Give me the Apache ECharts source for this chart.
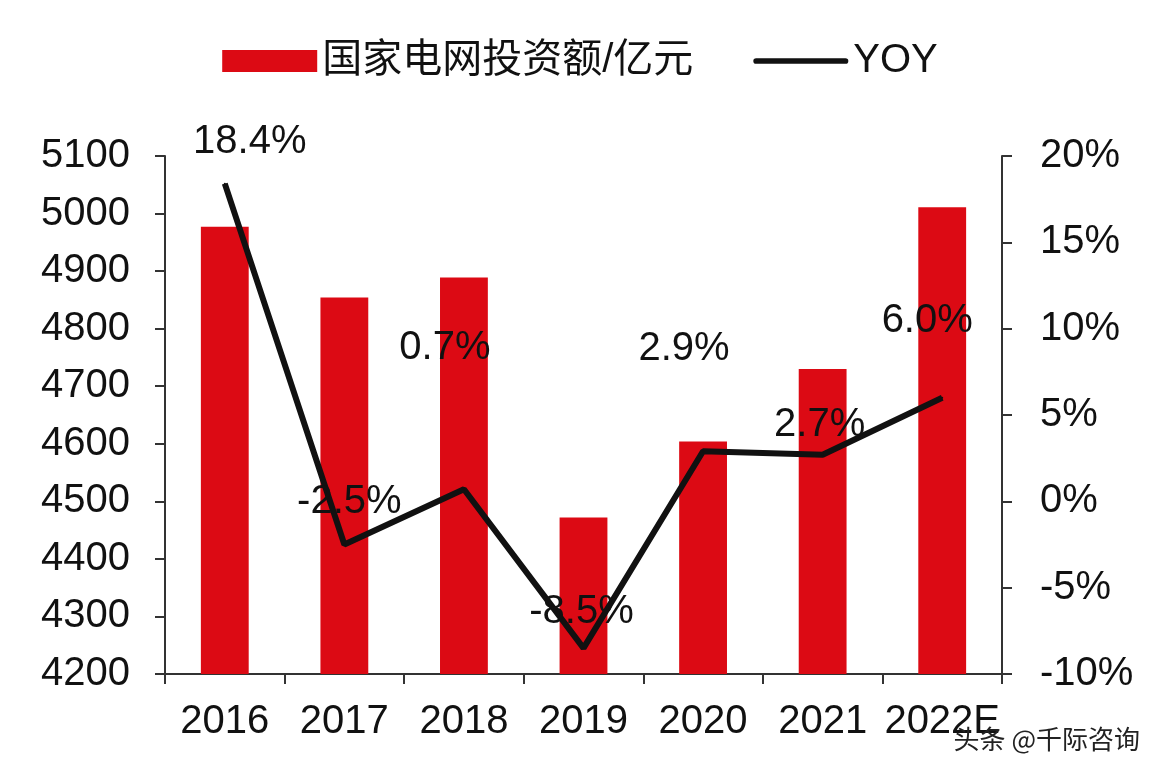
<!DOCTYPE html>
<html>
<head>
<meta charset="utf-8">
<script src="https://cdn.jsdelivr.net/npm/echarts@6/dist/echarts.min.js"></script>
<style>
  html, body { margin: 0; padding: 0; background: #fff; }
  #chart { width: 1160px; height: 780px; }
</style>
</head>
<body>
<div id="chart"></div>
<script>
var years = ['2016', '2017', '2018', '2019', '2020', '2021', '2022E']
var investment = [4977, 4854, 4889, 4472, 4604, 4730, 5011]
var yoy = [18.4, -2.5, 0.7, -8.5, 2.9, 2.7, 6.0]
var leftTicks = [4200, 4300, 4400, 4500, 4600, 4700, 4800, 4900, 5000, 5100]
var rightTicks = [-10, -5, 0, 5, 10, 15, 20]

// label offsets, matched to the picture
var labelOffsets = [[25, -42], [5, -43], [-19, -141], [-2, -36], [-19, -102], [-3, -30], [-15, -77]]

var chart = echarts.init(document.getElementById('chart'), null, { renderer: 'canvas' })

var font = 'Liberation Sans, Arial, sans-serif'
var axisColor = '#333'

var option = {
  backgroundColor: '#fff',
  textStyle: { fontFamily: font },
  legend: {
    top: 36,
    left: 'center',
    itemWidth: 95,
    itemHeight: 22,
    itemGap: 60,
    textStyle: { fontSize: 40, color: '#111', fontFamily: 'Liberation Sans, Noto Sans CJK SC, sans-serif' },
    data: [
      { name: '国家电网投资额/亿元', icon: 'rect' },
      { name: 'YOY', icon: 'path://M3,0 L97,0 A3,3 0 0 1 97,6 L3,6 A3,3 0 0 1 3,0 Z' }
    ]
  },
  grid: {
    left: 165,
    right: 158,
    top: 156,
    bottom: 106
  },
  xAxis: {
    type: 'category',
    data: years,
    axisLine: { onZero: false, lineStyle: { color: axisColor, width: 2 } },
    axisTick: { show: true, length: 10, lineStyle: { color: axisColor, width: 2 } },
    axisLabel: { fontSize: 40, color: '#111', margin: 28, interval: 0 }
  },
  yAxis: [{
    type: 'value',
    min: leftTicks[0],
    max: leftTicks[leftTicks.length - 1],
    interval: 100,
    axisLine: { show: true, lineStyle: { color: axisColor, width: 2 } },
    axisTick: { show: true, length: 10, lineStyle: { color: axisColor, width: 2 } },
    axisLabel: { fontSize: 40, color: '#111', margin: 35, formatter: function(v) { return String(v) } },
    splitLine: { show: false }
  }, {
    type: 'value',
    position: 'right',
    min: rightTicks[0],
    max: rightTicks[rightTicks.length - 1],
    interval: 5,
    axisLine: { show: true, lineStyle: { color: axisColor, width: 2 } },
    axisTick: { show: true, length: 10, lineStyle: { color: axisColor, width: 2 } },
    axisLabel: { fontSize: 40, color: '#111', margin: 38, formatter: '{value}%' },
    splitLine: { show: false }
  }],
  series: [{
    name: '国家电网投资额/亿元',
    type: 'bar',
    data: investment,
    barWidth: '40%',
    itemStyle: { color: '#dc0a14' }
  }, {
    name: 'YOY',
    type: 'line',
    yAxisIndex: 1,
    data: yoy.map(function(v, i) {
      return {
        value: v,
        label: { offset: labelOffsets[i] }
      }
    }),
    symbol: 'circle',
    symbolSize: 2,
    showSymbol: true,
    lineStyle: { color: '#111', width: 6 },
    itemStyle: { color: '#111' },
    label: {
      show: true,
      position: 'inside',
      fontSize: 40,
      color: '#111',
      formatter: function(p) { return p.value.toFixed(1) + '%' }
    },
    z: 5
  }],
  graphic: [{
    type: 'text',
    right: 20,
    top: 726,
    style: {
      text: '头条 @千际咨询',
      fontSize: 26,
      fill: '#222',
      fontFamily: 'Noto Sans CJK SC, sans-serif'
    },
    z: 10
  }]
}

chart.setOption(option)
</script>
</body>
</html>
